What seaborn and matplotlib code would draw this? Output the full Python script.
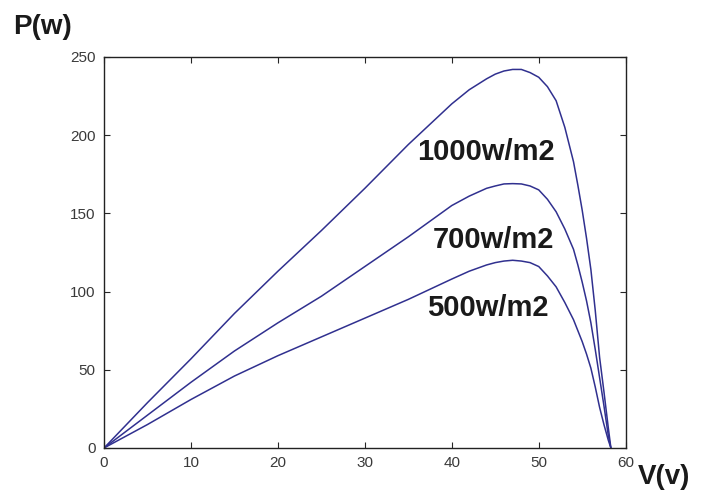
import numpy as np
import pandas as pd
import matplotlib
matplotlib.use("Agg")
import matplotlib.pyplot as plt
import seaborn as sns

# voltage grid (V) and power curves (W)
volts = [0, 5, 10, 15, 20, 25, 30, 35, 40, 42, 44, 45, 46, 47, 48, 49, 50,
         51, 52, 53, 54, 54.5, 55, 55.5, 56, 56.5, 57, 57.5, 58, 58.3]
p_1000 = [0, 29, 57, 86, 113, 139, 166, 194, 220, 229, 236, 239, 241, 242, 242, 240, 237,
          231, 222, 205, 183, 168, 152, 134, 114, 88, 58, 36, 13, 0]
p_700 = [0, 21, 42, 62, 80, 97, 116, 135, 155, 161, 166, 167.5, 168.8, 169, 168.8, 167.5, 165,
         159, 151, 140, 127, 117, 106, 94, 80, 63, 45, 27, 8, 0]
p_500 = [0, 15, 31, 46, 59, 71, 83, 95, 108, 113, 117, 118.5, 119.5, 120, 119.5, 118.5, 116,
         110, 103, 93, 82, 75, 68, 60, 51, 39, 26, 15, 5, 0]

labels = ["1000w/m2", "700w/m2", "500w/m2"]
label_pos = [(36.0, 189), (37.8, 133), (37.1, 89.5)]

df = pd.concat([
    pd.DataFrame({"V": volts, "P": p, "irr": lab})
    for p, lab in zip([p_1000, p_700, p_500], labels)
])

sns.set_theme(style="ticks")
plt.rcParams["font.family"] = ["Liberation Sans", "DejaVu Sans"]

fig = plt.figure(figsize=(7.03, 4.95), dpi=100)
ax = fig.add_axes([0.148, 0.095, 0.742, 0.79])

line_col = "#30308f"
sns.lineplot(data=df, x="V", y="P", hue="irr", palette=[line_col] * 3,
             legend=False, linewidth=1.1, sort=False, ax=ax)

ax.set_xlim(0, 60)
ax.set_ylim(0, 250)
ax.set_xticks(range(0, 61, 10))
ax.set_yticks(range(0, 251, 50))
ax.tick_params(direction="in", length=4, width=0.8, top=True, right=True,
               labelsize=11, labelcolor="#3a3a3a", pad=6)
for s in ax.spines.values():
    s.set_linewidth(1.0)
    s.set_color("#222222")
ax.set_xlabel("")
ax.set_ylabel("")

for lab, (x, y) in zip(labels, label_pos):
    ax.text(x, y, lab, fontsize=21, fontweight="bold", color="#1a1a1a",
            ha="left", va="center")

fig.text(13 / 703, 1 - 27 / 495, "P(w)", fontsize=20, fontweight="bold",
         color="#1a1a1a", ha="left", va="center")
fig.text(638 / 703, 1 - 477 / 495, "V(v)", fontsize=20, fontweight="bold",
         color="#1a1a1a", ha="left", va="center")

fig.savefig("out.png", dpi=100)
